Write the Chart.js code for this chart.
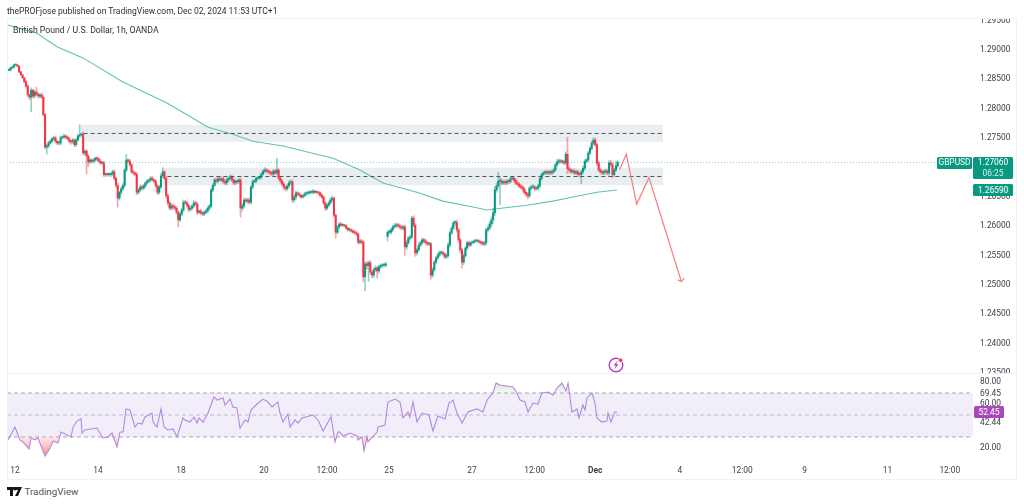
<!DOCTYPE html>
<html><head><meta charset="utf-8">
<style>
html,body{margin:0;padding:0;background:#fff;width:1024px;height:504px;overflow:hidden;font-family:Roboto,sans-serif;color:#2a2e39}
canvas{position:absolute;left:7px}
#priceCanvas{top:18px}
#rsiCanvas{top:374px}
.t{position:absolute;white-space:nowrap;font-size:8.7px;line-height:12px}
.line{position:absolute;background:#eff1f4}
.tag{position:absolute;color:#fff;font-size:8.4px;text-align:center;border-radius:1.5px;line-height:11px}
</style></head><body>
<canvas id="priceCanvas" width="1009" height="356"></canvas>
<canvas id="rsiCanvas" width="1009" height="105"></canvas>
<div class="line" style="left:7px;top:18px;width:1010px;height:1px"></div>
<div class="line" style="left:7px;top:373px;width:1010px;height:1px"></div>
<div class="line" style="left:7px;top:479px;width:1010px;height:1px"></div>
<div class="line" style="left:7px;top:18px;width:1px;height:462px"></div>
<div class="line" style="left:1016px;top:18px;width:1px;height:462px"></div>
<div class="t" id="publisher" style="left:7px;top:5px;font-size:8.5px">thePROFjose published on TradingView.com, Dec 02, 2024 11:53 UTC+1</div>
<div class="t" id="symbol" style="left:13px;top:24px">British Pound / U.S. Dollar, 1h, OANDA</div>
<div class="tag" id="symTag" style="left:937px;width:35px;height:12px;background:#089981">GBPUSD</div>
<div class="tag" id="lastTag" style="left:973px;width:40px;height:22px;background:#089981"><div id="lastVal"></div><div id="countdown" style="opacity:.85"></div></div>
<div class="tag" id="maTag" style="left:973px;width:40px;height:12px;line-height:12px;background:#089981"></div>
<div class="tag" id="rsiTag" style="left:974px;width:30px;height:12px;line-height:12px;background:#ab47bc"></div>
<svg style="position:absolute;left:607px;top:356px" width="18" height="18" viewBox="0 0 18 18">
<circle cx="9" cy="9" r="6.8" fill="none" stroke="#ab47bc" stroke-width="1.4"/>
<path d="M10.4 4.800 6.600 9.600h2.200L7.600 13.200l3.900-4.900H9.300z" fill="#ab47bc"/>
<circle cx="13.600" cy="4.200" r="2.200" fill="#f23645" stroke="#fff" stroke-width=".8"/></svg>
<svg style="position:absolute;left:7px;top:487px" width="15" height="9" viewBox="0 0 15 9">
<path d="M0 0h6v9H3V3H0zM6.500 0h8.500l-4 9H8l3-6H9a1.400 1.400 0 0 1-2.500-3z" fill="#131722"/></svg>
<div class="t" id="brand" style="left:24.500px;top:485px;font-size:9.800px;line-height:14px;color:#50535e">TradingView</div>
<script src="https://cdn.jsdelivr.net/npm/chart.js@4"></script>
<script>
const closes=[
1.2863,1.2867,1.2868,1.2872,1.2872,1.2870,1.2860,1.2855,1.2850,1.2843,
1.2836,1.2821,1.2817,1.2829,1.2819,1.2826,1.2822,1.2819,1.2821,1.2817,
1.2787,1.2732,1.2734,1.2739,1.2742,1.2746,1.2748,1.2742,1.2739,1.2739,
1.2748,1.2749,1.2751,1.2749,1.2746,1.2742,1.2741,1.2744,1.2736,1.2744,
1.2751,1.2753,1.2754,1.2722,1.2725,1.2717,1.2707,1.2710,1.2708,1.2710,
1.2713,1.2712,1.2708,1.2705,1.2705,1.2685,1.2686,1.2685,1.2685,1.2686,
1.2690,1.2679,1.2667,1.2645,1.2655,1.2661,1.2667,1.2693,1.2710,1.2708,
1.2702,1.2690,1.2688,1.2686,1.2655,1.2659,1.2664,1.2662,1.2666,1.2671,
1.2674,1.2676,1.2679,1.2676,1.2674,1.2666,1.2655,1.2664,1.2683,1.2690,
1.2679,1.2649,1.2637,1.2628,1.2632,1.2630,1.2628,1.2621,1.2608,1.2618,
1.2625,1.2638,1.2637,1.2633,1.2626,1.2628,1.2632,1.2637,1.2635,1.2621,
1.2623,1.2620,1.2618,1.2621,1.2623,1.2628,1.2632,1.2659,1.2667,1.2676,
1.2674,1.2678,1.2676,1.2678,1.2673,1.2671,1.2676,1.2679,1.2681,1.2676,
1.2671,1.2674,1.2673,1.2676,1.2628,1.2632,1.2642,1.2640,1.2642,1.2638,
1.2664,1.2673,1.2674,1.2679,1.2679,1.2681,1.2686,1.2691,1.2693,1.2691,
1.2690,1.2688,1.2686,1.2691,1.2688,1.2693,1.2679,1.2674,1.2669,1.2664,
1.2661,1.2666,1.2671,1.2673,1.2642,1.2647,1.2654,1.2652,1.2650,1.2647,
1.2649,1.2652,1.2654,1.2654,1.2655,1.2655,1.2657,1.2655,1.2655,1.2654,
1.2650,1.2647,1.2637,1.2628,1.2633,1.2637,1.2642,1.2645,1.2616,1.2587,
1.2596,1.2601,1.2599,1.2599,1.2598,1.2594,1.2591,1.2591,1.2589,1.2587,
1.2586,1.2584,1.2570,1.2572,1.2570,1.2511,1.2533,1.2530,1.2535,1.2519,
1.2514,1.2523,1.2526,1.2521,1.2528,1.2530,1.2531,1.2531,1.2533,1.2587,
1.2587,1.2591,1.2596,1.2598,1.2599,1.2598,1.2596,1.2594,1.2596,1.2562,
1.2569,1.2577,1.2579,1.2611,1.2599,1.2552,1.2557,1.2565,1.2569,1.2574,
1.2572,1.2569,1.2567,1.2567,1.2514,1.2523,1.2536,1.2543,1.2548,1.2552,
1.2552,1.2550,1.2545,1.2547,1.2565,1.2586,1.2594,1.2603,1.2604,1.2591,
1.2574,1.2557,1.2536,1.2547,1.2560,1.2569,1.2565,1.2569,1.2570,1.2572,
1.2572,1.2572,1.2570,1.2569,1.2567,1.2569,1.2591,1.2594,1.2601,1.2608,
1.2620,1.2659,1.2666,1.2674,1.2674,1.2671,1.2673,1.2671,1.2674,1.2673,
1.2678,1.2679,1.2676,1.2671,1.2669,1.2666,1.2664,1.2661,1.2655,1.2652,
1.2649,1.2662,1.2664,1.2664,1.2661,1.2662,1.2666,1.2678,1.2685,1.2688,
1.2690,1.2688,1.2690,1.2688,1.2690,1.2693,1.2702,1.2707,1.2708,1.2707,
1.2707,1.2705,1.2720,1.2695,1.2693,1.2690,1.2691,1.2688,1.2690,1.2686,
1.2685,1.2690,1.2696,1.2708,1.2710,1.2722,1.2730,1.2739,1.2744,1.2736,
1.2705,1.2693,1.2690,1.2688,1.2690,1.2691,1.2688,1.2705,1.2702,1.2685,
1.2693,1.2700,1.2706];
// weekend gap: the bar that opens away from the previous close
const gapBar=219, gapOpen=1.2580;
// wick lengths beyond the body, in pips
const upperWicks=[
1,1,1,1,1,1,1,1,1,1, 3,2,2,4,2,3,8,3,2,3, 3,2,3,3,3,2,3,2,2,3, 3,2,3,2,2,3,2,3,2,3,
3,17,2,4,3,3,2,3,2,3, 2,3,2,3,2,3,2,2,3,2, 3,3,2,3,2,3,3,3,10,2, 3,3,3,2,3,3,4,3,3,2,
3,2,3,3,2,3,2,3,4,7, 2,3,3,3,4,3,3,3,3,3, 3,4,3,3,2,3,2,4,3,3, 2,3,2,3,3,3,2,3,3,3,
3,3,4,3,3,4,3,3,4,3, 3,3,2,3,3,4,3,3,3,3, 2,3,3,2,3,2,3,3,4,3, 3,2,3,3,3,20,2,3,3,3,
2,3,4,3,3,3,3,2,3,2, 2,3,2,2,3,3,3,2,2,2, 2,3,2,3,3,3,4,4,2,2, 3,2,3,2,2,2,2,3,2,2,
3,2,2,3,3,3,3,4,3,4, 3,3,4,3,3,3,2,3,3,3, 4,3,3,4,3,3,3,3,3,3, 4,3,3,3,4,3,3,4,3,3,
3,3,2,3,3,4,3,3,4,3, 3,3,3,4,4,3,4,3,3,4, 3,3,3,4,3,3,3,2,2,2, 3,2,2,2,3,3,3,4,4,5,
8,6,5,15,6,4,3,3,3,3, 3,3,3,3,4,3,3,3,3,3, 3,3,3,4,3,3,3,3,3,3, 2,3,2,3,3,3,3,4,4,3,
3,3,4,29,3,3,3,4,3,3, 3,3,4,3,3,3,3,3,4,3, 3,3,3,3,3,3,3,4,4,4, 3,8,3];
const lowerWicks=[
1,1,1,1,1,1,1,1,1,1, 3,3,4,25,3,3,2,3,3,2, 2,3,12,3,2,3,3,3,3,3, 3,2,2,3,2,3,4,3,3,3,
2,3,2,3,4,31,8,3,3,3, 3,3,2,3,2,3,3,2,3,3, 3,3,4,15,3,4,3,3,3,2, 3,3,3,3,4,3,3,3,3,3,
2,3,3,2,3,3,4,3,3,3, 3,4,4,3,3,4,3,3,12,3, 3,3,2,3,4,3,3,3,3,4, 3,3,3,3,3,3,3,3,3,2,
3,3,2,3,3,3,4,3,3,3, 3,3,3,3,15,5,4,3,4,3, 3,3,2,3,3,2,3,2,3,3, 3,3,3,3,2,3,3,3,3,4,
4,3,3,3,5,3,4,3,3,2, 2,2,2,3,2,2,3,2,2,3, 3,3,3,4,3,3,3,3,3,10, 3,3,2,2,2,2,2,3,2,2,
2,3,3,3,3,8,24,5,27,4, 5,4,3,12,4,3,3,3,3,8, 3,3,3,2,3,3,3,3,3,14, 4,3,3,3,3,6,4,3,3,3,
3,3,3,3,7,4,3,3,3,3, 3,3,3,3,3,3,3,3,4,4, 4,5,10,4,3,3,3,2,2,2, 2,2,2,3,3,3,4,4,3,5,
6,5,4,4,40,3,3,3,3,3, 2,2,3,3,3,3,3,4,3,4, 5,3,3,3,3,3,3,3,3,2, 2,3,3,3,3,3,2,3,3,3,
3,3,3,8,4,3,3,3,3,4, 4,15,3,3,3,3,3,3,3,3, 4,3,3,3,3,4,3,4,3,5, 3,3,3];

const maHours=[0.6,17.3,28.9,43.9,67,92.5,116.2,130.6,142.2,159.5,188.4,192.5,204,217.3,237,252,269.4,277.5,283.2,300.6,315.6,327.2,341,352.6];
const maValues=[1.2940,1.2926,1.2903,1.2884,1.2843,1.2807,1.2766,1.2754,1.2742,1.2734,1.2713,1.2708,1.2693,1.2671,1.2655,1.2640,1.2630,1.2625,1.2627,1.2633,1.2640,1.2647,1.2655,1.2659];

const rsiHours=[0.6,4.6,7.5,9.2,12.7,13.9,16.2,17.9,22,24.9,26.6,29.5,31.2,37,38.2,40.5,42.8,43.4,45.1,52,55.5,58.4,60.7,63.6,65.3,67.1,68.8,71.1,72.8,74,75.7,78,79.8,83.8,84.4,86.7,89,90.8,93,96,98.3,101.7,102.9,105.8,108.1,109.8,111,113.3,116.2,118.5,119.7,121.4,124.9,126,128.9,130.6,132.9,134.7,137.6,139.3,141,144.5,148,150.9,153.2,156.6,157.8,159.5,162.4,163.6,166.5,168.2,170.5,176.9,179.8,182.7,187.3,189.6,191.3,192.5,194.2,198.3,202.3,202.9,205.2,206.4,208.1,208.7,213.9,214.5,218.5,220.2,224.3,227.2,228.9,231.8,232.9,234.7,237,239.9,243.9,246.2,249.1,253.2,255.5,257.8,260.1,263,266.5,271.7,275.1,277.5,280.9,282.7,285,292.5,294.8,296.5,299.4,301.2,304,306.9,309.2,312.7,315.6,317.9,320.8,323.1,324.3,326.6,329.5,330.6,332.9,334.1,335.3,338.2,339.9,341,343.9,346.8,347.4,349.1,351.4,352.6];
const rsiValues=[27.3,39.1,27.3,25.5,19.1,29.1,27.3,29.1,12.7,20,26.4,24.5,34.5,30,39.1,44.5,46.4,33.6,36.4,38.2,29.1,30,33.6,20.9,34.5,34.5,55.5,54.5,45.5,39.1,42.7,41.8,48.2,51.8,43.6,39.1,55.5,39.1,36.4,37.3,30,47.3,45.5,43.6,48.2,42.7,47.3,43.6,51.8,61.8,66.4,63.6,65.5,59.1,64.5,57.3,56.4,38.2,45.5,43.6,54.5,60,64.5,61.8,57.3,61.8,51.8,43.6,50.9,39.1,45.5,42.7,47.3,50,45.5,35.5,48.2,25.5,34.5,34.5,30.9,33.6,30.9,27.3,30,17.3,30,25.5,34.5,39.1,40.9,61.8,64.5,61.8,47.3,52.7,48.2,61.8,43.6,51.8,50,35.5,49.1,46.4,60.9,63.6,51.8,42.7,52.7,55.5,52.7,63.6,70,79.1,77.3,75.5,70,63.6,61.8,52.7,60.9,60,70,70.9,68.2,74.5,79.1,71.8,79.1,52.7,55.5,47.3,59.1,54.5,65.5,70,60.9,47.3,43.6,44.5,51.8,43.6,52.7,52.45];

const upperZone=[1.2770,1.27553,1.2741], lowerZone=[1.2697,1.26819,1.2667];
const upperZoneHours=[42.8,379.2], lowerZoneHours=[90.2,379.2];
const arrowHours=[354,358,364,371.1,389.8], arrowValues=[1.2693,1.2720,1.2635,1.2680,1.2503];
const headHours=[387.7,389.8,391.5], headValues=[1.2506,1.2503,1.2509];
const lastPrice=1.2706, maLast=1.2659, rsiLast=52.45, countdown="06:25", lastLineEndHour=537.6;
const priceTicks=[1.235,1.24,1.245,1.25,1.255,1.26,1.265,1.27,1.275,1.28,1.285,1.29,1.295];
const rsiTicks=[20,42.44,60,69.45,80], rsiBands=[70,50,30];
const xTickHours=[4.6,52.6,100.6,148.6,185,220.8,268.8,305,340,389,425,461,509,545];
const xTickLabels=["12","14","18","20","12:00","25","27","12:00","Dec","4","12:00","9","11","12:00"];

const HOURS_MAX=558.4, PRICE_MIN=1.234548, PRICE_MAX=1.295196, RSI_MIN=10.9, RSI_MAX=87.3;
const UP="#089981", DOWN="#f23645", UPW="rgba(8,153,129,.45)", DOWNW="rgba(242,54,69,.45)";
const FONT={family:'Roboto,sans-serif',size:8.4};

const opens=closes.map((c,i)=>i===gapBar?gapOpen:(i?closes[i-1]:c));
const wickData=closes.map((c,i)=>({x:i+1,y:[Math.min(opens[i],c)-lowerWicks[i]/10000,Math.max(opens[i],c)+upperWicks[i]/10000]}));
const bodyData=closes.map((c,i)=>({x:i+1,y:[opens[i],c]}));
const up=closes.map((c,i)=>c>=opens[i]);
const line=(hours,vals,extra)=>Object.assign({type:'line',data:hours.map((h,i)=>({x:h,y:vals[i]})),pointRadius:0,borderWidth:1,tension:0,fill:false},extra);
const flat=(hours,v,extra)=>line(hours,hours.map(()=>v),extra);
const yAxisCommon={position:'right',grid:{display:false,drawTicks:false},border:{display:false},
  afterFit(s){s.width=43;s.paddingTop=0;s.paddingBottom=0}};
const xBase={type:'linear',offset:false,min:0,max:HOURS_MAX,grid:{display:false,drawTicks:false},border:{display:false}};

const priceChart=new Chart(document.getElementById('priceCanvas'),{
  type:'bar',
  data:{datasets:[
    flat(upperZoneHours,upperZone[0],{borderWidth:0,fill:'+1',backgroundColor:'#e9eef1',order:20}),
    flat(upperZoneHours,upperZone[2],{borderWidth:0,order:20}),
    flat(lowerZoneHours,lowerZone[0],{borderWidth:0,fill:'+1',backgroundColor:'#e9eef1',order:20}),
    flat(lowerZoneHours,lowerZone[2],{borderWidth:0,order:20}),
    flat([0,lastLineEndHour],lastPrice,{borderColor:'#7fd1c1',borderDash:[1,2],order:15}),
    line(maHours,maValues,{borderColor:'#62c3aa',borderWidth:1.1,order:12}),
    {data:wickData,backgroundColor:up.map(u=>u?UPW:DOWNW),barThickness:1,grouped:false,order:8},
    {data:bodyData,backgroundColor:up.map(u=>u?UP:DOWN),barThickness:1.4,minBarLength:1,grouped:false,order:6},
    flat([upperZoneHours[0]+1.5,upperZoneHours[1]],upperZone[1],{borderColor:'#50535e',borderDash:[4,3],order:4}),
    flat([lowerZoneHours[0]+2.5,lowerZoneHours[1]],lowerZone[1],{borderColor:'#50535e',borderDash:[4,3],order:4}),
    line(arrowHours,arrowValues,{borderColor:'#f77c80',borderWidth:1.2,order:2}),
    line(headHours,headValues,{borderColor:'#f77c80',borderWidth:1.2,order:2})
  ]},
  options:{responsive:false,animation:false,layout:{padding:0},
    plugins:{legend:{display:false},tooltip:{enabled:false}},
    scales:{
      x:Object.assign({},xBase,{display:false}),
      y:Object.assign({},yAxisCommon,{min:PRICE_MIN,max:PRICE_MAX,
        afterBuildTicks(s){s.ticks=priceTicks.map(v=>({value:v}))},
        ticks:{color:'#3b3f4a',font:Object.assign({},FONT,{lineHeight:'3px'}),padding:7,autoSkip:false,callback:v=>['',v.toFixed(5)]}})
    }}
});

const ctx=document.getElementById('rsiCanvas').getContext('2d');
const lowGrad=ctx.createLinearGradient(0,63,0,83);
lowGrad.addColorStop(0,'rgba(255,160,160,.25)');lowGrad.addColorStop(1,'rgba(255,82,82,.75)');
const highGrad=ctx.createLinearGradient(0,19,0,5);
highGrad.addColorStop(0,'rgba(76,175,80,.05)');highGrad.addColorStop(1,'rgba(76,175,80,.35)');
const rsiChart=new Chart(ctx,{
  type:'line',
  data:{datasets:[
    flat([0,HOURS_MAX],rsiBands[0],{borderWidth:0,fill:'+1',backgroundColor:'rgba(126,87,194,.1)',order:20}),
    flat([0,HOURS_MAX],rsiBands[2],{borderWidth:0,order:20}),
    flat([0,HOURS_MAX],rsiBands[0],{borderColor:'#a9a6b3',borderDash:[4,3],order:10}),
    flat([0,HOURS_MAX],rsiBands[1],{borderColor:'#c2b8d2',borderDash:[4,3],order:10}),
    flat([0,HOURS_MAX],rsiBands[2],{borderColor:'#a9a6b3',borderDash:[4,3],order:10}),
    line(rsiHours,rsiValues,{borderColor:'transparent',fill:{target:{value:30},above:'transparent',below:lowGrad},order:8}),
    line(rsiHours,rsiValues,{borderColor:'transparent',fill:{target:{value:70},above:highGrad,below:'transparent'},order:8}),
    line(rsiHours,rsiValues,{borderColor:'#b488de',borderWidth:1.1,order:2})
  ]},
  options:{responsive:false,animation:false,layout:{padding:0},
    plugins:{legend:{display:false},tooltip:{enabled:false}},
    scales:{
      x:Object.assign({},xBase,{
        afterFit(s){s.height=21;s.paddingLeft=0;s.paddingRight=0},
        afterBuildTicks(s){s.ticks=xTickHours.map(v=>({value:v}))},
        ticks:{color:'#3b3f4a',autoSkip:false,maxRotation:0,padding:8,
          font:c=>({family:FONT.family,size:FONT.size,weight:c.tick&&xTickHours.indexOf(c.tick.value)===8?'bold':'normal'}),
          callback:v=>xTickLabels[xTickHours.indexOf(v)]}}),
      y:Object.assign({},yAxisCommon,{min:RSI_MIN,max:RSI_MAX,
        afterBuildTicks(s){s.ticks=rsiTicks.map(v=>({value:v}))},
        ticks:{color:'#3b3f4a',font:FONT,padding:7,autoSkip:false,callback:v=>v.toFixed(2)}})
    }}
});

const py=v=>18+priceChart.scales.y.getPixelForValue(v);
const ry=v=>374+rsiChart.scales.y.getPixelForValue(v);
const put=(id,top,txt)=>{const e=document.getElementById(id);e.style.top=top+'px';if(txt!==undefined)e.textContent=txt};
put('symTag',py(lastPrice)-5.5);
put('lastTag',py(lastPrice)-5.5);
document.getElementById('lastVal').textContent=lastPrice.toFixed(5);
document.getElementById('countdown').textContent=countdown;
put('maTag',py(maLast)-6,maLast.toFixed(5));
put('rsiTag',ry(rsiLast)-6,rsiLast.toFixed(2));
</script></body></html>
